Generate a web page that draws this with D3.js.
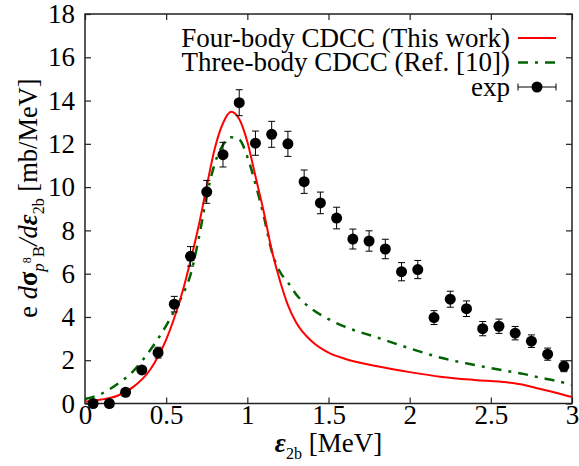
<!DOCTYPE html>
<html>
<head>
<meta charset="utf-8">
<script src="https://cdn.jsdelivr.net/npm/d3@7"></script>
<style>
  body { margin: 0; background: #fff; }
  svg text { font-family: "Liberation Serif", "Times New Roman", serif; }
</style>
</head>
<body>
<div id="chart"></div>
<script>
/* Breakup cross section: CDCC curves vs experiment */

// experimental points (energy in MeV, cross section, error)
const expE = [0.05, 0.15, 0.25, 0.35, 0.45, 0.55, 0.65, 0.75, 0.85, 0.95,
              1.05, 1.15, 1.25, 1.35, 1.45, 1.55, 1.65, 1.75, 1.85, 1.95,
              2.05, 2.15, 2.25, 2.35, 2.45, 2.55, 2.65, 2.75, 2.85, 2.95];
const expY = [0.0, 0.0, 0.52, 1.55, 2.35, 4.59, 6.8, 9.78, 11.5, 13.9,
              12.03, 12.44, 12.0, 10.25, 9.27, 8.57, 7.6, 7.51, 7.14, 6.09,
              6.19, 3.97, 4.82, 4.38, 3.46, 3.57, 3.25, 2.88, 2.28, 1.72];
const expErr = [0.05, 0.05, 0.1, 0.15, 0.25, 0.36, 0.45, 0.53, 0.57, 0.6,
                0.56, 0.6, 0.58, 0.54, 0.5, 0.5, 0.46, 0.47, 0.45, 0.42,
                0.42, 0.32, 0.37, 0.36, 0.33, 0.33, 0.31, 0.29, 0.28, 0.25];

// theory curves on a common energy grid
const curveE = [0, 0.1, 0.2, 0.3, 0.4, 0.5, 0.55, 0.6, 0.65, 0.7, 0.75, 0.8, 0.85, 0.9, 0.95,
                1.0, 1.05, 1.1, 1.15, 1.2, 1.25, 1.3, 1.4, 1.5, 1.6, 1.8, 2.0, 2.2, 2.4,
                2.6, 2.7, 2.8, 2.9, 3.0];
const fourBody = [0.08, 0.18, 0.36, 0.78, 1.55, 2.95, 3.95, 5.15, 6.6, 8.2, 10.05, 11.8, 12.95, 13.48, 13.15,
                  12.1, 10.5, 8.9, 7.1, 5.7, 4.55, 3.75, 2.85, 2.35, 2.07, 1.72, 1.45, 1.23, 1.09,
                  0.98, 0.87, 0.68, 0.5, 0.3];
const threeBody = [0.21, 0.45, 0.9, 1.52, 2.45, 3.6, 4.28, 5.0, 5.95, 7.6, 9.6, 11.1, 11.95, 12.3, 12.2,
                   11.4, 10.15, 8.7, 7.05, 6.1, 5.6, 5.05, 4.35, 3.9, 3.55, 3.05, 2.55, 2.1, 1.78,
                   1.5, 1.37, 1.2, 1.05, 0.86];

const xTicks = [0, 0.5, 1, 1.5, 2, 2.5, 3];
const yTicks = [0, 2, 4, 6, 8, 10, 12, 14, 16, 18];
const legendLabels = ["Four-body CDCC (This work)", "Three-body CDCC (Ref. [10])", "exp"];

const width = 579, height = 466;
const margin = { top: 14, right: 7, bottom: 62.5, left: 85 };
const fontSize = 27;
const serif = "Liberation Serif";

const svg = d3.select("#chart").append("svg")
    .attr("width", width)
    .attr("height", height)
    .attr("font-family", serif);

const x = d3.scaleLinear().domain([0, 3]).range([margin.left, width - margin.right]);
const y = d3.scaleLinear().domain([0, 18]).range([height - margin.bottom, margin.top]);

const frameColor = "#222";

// axes: ticks point inward, mirrored on top and right
const xAxis = g => g
    .attr("transform", `translate(0,${height - margin.bottom})`)
    .call(d3.axisBottom(x).tickValues(xTicks).tickFormat(d3.format("~g")).tickSizeInner(-6).tickSizeOuter(0).tickPadding(1));
const yAxis = g => g
    .attr("transform", `translate(${margin.left},0)`)
    .call(d3.axisLeft(y).tickValues(yTicks).tickSizeInner(-6).tickSizeOuter(0).tickPadding(10));
const xTop = g => g
    .attr("transform", `translate(0,${margin.top})`)
    .call(d3.axisTop(x).tickValues(xTicks).tickFormat("").tickSizeInner(-6).tickSizeOuter(0));
const yRight = g => g
    .attr("transform", `translate(${width - margin.right},0)`)
    .call(d3.axisRight(y).tickValues(yTicks).tickFormat("").tickSizeInner(-6).tickSizeOuter(0));

[xAxis, yAxis, xTop, yRight].forEach(a => {
    const g = svg.append("g").call(a)
        .attr("font-family", serif)
        .attr("font-size", fontSize);
    g.select(".domain").remove();
    g.selectAll("line").attr("stroke", frameColor).attr("stroke-width", 1.2);
    g.selectAll("text").attr("fill", "#000");
});

// plot frame
svg.append("rect")
    .attr("x", margin.left)
    .attr("y", margin.top)
    .attr("width", width - margin.left - margin.right)
    .attr("height", height - margin.top - margin.bottom)
    .attr("fill", "none")
    .attr("stroke", frameColor)
    .attr("stroke-width", 1.5);

// theory curves
const line = d3.line().x(d => x(d[0])).y(d => y(d[1])).curve(d3.curveMonotoneX);

svg.append("path")
    .datum(curveE.map((e, i) => [e, threeBody[i]]))
    .attr("d", line)
    .attr("fill", "none")
    .attr("stroke", "#006400")
    .attr("stroke-width", 2.5)
    .attr("stroke-dasharray", "10,7,3,7");

svg.append("path")
    .datum(curveE.map((e, i) => [e, fourBody[i]]))
    .attr("d", line)
    .attr("fill", "none")
    .attr("stroke", "#ff0000")
    .attr("stroke-width", 2);

// experimental points with error bars
const pts = expE.map((e, i) => ({ e: e, v: expY[i], err: expErr[i] }));

let pt = svg.selectAll(".pt")
    .data(pts)
    .join("g")
    .attr("class", "pt");

pt.append("line")
    .attr("x1", d => x(d.e)).attr("x2", d => x(d.e))
    .attr("y1", d => y(d.v - d.err)).attr("y2", d => y(d.v + d.err))
    .attr("stroke", "#000").attr("stroke-width", 1);
pt.selectAll(".cap")
    .data(d => [d.v - d.err, d.v + d.err].map(v => ({ e: d.e, v: v })))
    .join("line")
    .attr("x1", d => x(d.e) - 3.5).attr("x2", d => x(d.e) + 3.5)
    .attr("y1", d => y(d.v)).attr("y2", d => y(d.v))
    .attr("stroke", "#000").attr("stroke-width", 1);
pt.append("circle")
    .attr("cx", d => x(d.e))
    .attr("cy", d => y(d.v))
    .attr("r", 5.5)
    .attr("fill", "#000");

// legend
const legX = 510, legY0 = 38, legStep = 24.5;
const leg = svg.append("g");
legendLabels.forEach((lab, i) => {
    const cy = legY0 + i * legStep;
    leg.append("text")
        .attr("x", legX).attr("y", cy)
        .attr("dy", "0.33em")
        .attr("text-anchor", "end")
        .attr("font-size", fontSize)
        .text(lab);
});
leg.append("line")
    .attr("x1", 518).attr("x2", 556).attr("y1", legY0).attr("y2", legY0)
    .attr("stroke", "#ff0000").attr("stroke-width", 2);
leg.append("line")
    .attr("x1", 518).attr("x2", 556).attr("y1", legY0 + legStep).attr("y2", legY0 + legStep)
    .attr("stroke", "#006400").attr("stroke-width", 2.5).attr("stroke-dasharray", "10,7,3,7");
const ey = legY0 + 2 * legStep;
leg.append("line").attr("x1", 518).attr("x2", 556).attr("y1", ey).attr("y2", ey).attr("stroke", "#000");
leg.append("line").attr("x1", 518).attr("x2", 518).attr("y1", ey - 3.5).attr("y2", ey + 3.5).attr("stroke", "#000");
leg.append("line").attr("x1", 556).attr("x2", 556).attr("y1", ey - 3.5).attr("y2", ey + 3.5).attr("stroke", "#000");
leg.append("circle").attr("cx", 537).attr("cy", ey).attr("r", 5.5).attr("fill", "#000");

// x axis title
const xt = svg.append("text")
    .attr("x", (margin.left + width - margin.right) / 2)
    .attr("y", 452)
    .attr("text-anchor", "middle")
    .attr("font-size", fontSize);
xt.append("tspan").attr("font-style", "italic").attr("font-weight", "bold").text("ε");
xt.append("tspan").attr("font-size", 16).attr("dy", 7).text("2b");
xt.append("tspan").attr("dy", -7).text(" [MeV]");

// y axis title
const yt = svg.append("text")
    .attr("transform", "translate(37,198) rotate(-90)")
    .attr("text-anchor", "middle")
    .attr("font-size", 26.5);
yt.append("tspan").text("e ");
yt.append("tspan").attr("font-style", "italic").text("d");
yt.append("tspan").attr("font-weight", "bold").text("σ");
yt.append("tspan").attr("font-size", 17).attr("font-style", "italic").attr("dy", 7).text("p");
yt.append("tspan").attr("font-size", 12).attr("dy", -13).text("8");
yt.append("tspan").attr("font-size", 17).attr("dy", 13).text("B");
yt.append("tspan").attr("font-style", "italic").attr("dy", -7).text("/d");
yt.append("tspan").attr("font-style", "italic").attr("font-weight", "bold").text("ε");
yt.append("tspan").attr("font-size", 16).attr("dy", 7).text("2b");
yt.append("tspan").attr("dy", -7).text(" [mb/MeV]");
</script>
</body>
</html>
